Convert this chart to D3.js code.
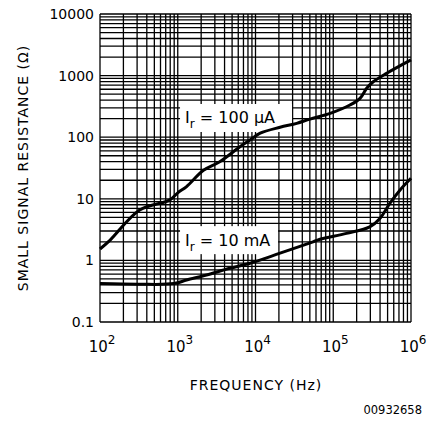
<!DOCTYPE html>
<html>
<head>
<meta charset="utf-8">
<script src="https://cdn.jsdelivr.net/npm/d3@7"></script>
<style>
  body { margin: 0; background: #fff; }
  svg { display: block; }
  text { font-family: "DejaVu Sans", sans-serif; fill: #000; }
</style>
</head>
<body>
<svg id="chart" width="431" height="423"></svg>
<script>
// Small signal resistance vs frequency, two reverse currents
const freqHigh = [100, 135, 324, 794, 1000, 1300, 2140, 3470, 6310, 8500, 11500, 20700, 33900, 50100, 91200, 164000, 221000, 269000, 327000, 486000, 1000000];
const resHigh  = [1.53, 2.14, 6.6, 9.6, 12.5, 15.8, 29, 40, 70, 90, 116, 145, 168, 197, 244, 333, 427, 622, 794, 1090, 1800];

const freqLow = [100, 316, 891, 1300, 2340, 4680, 8510, 20700, 55000, 67600, 148000, 295000, 398000, 537000, 724000, 1000000];
const resLow  = [0.42, 0.41, 0.42, 0.48, 0.58, 0.745, 0.9, 1.31, 2.0, 2.2, 2.75, 3.5, 4.8, 8.5, 13.9, 21.5];

const xTickExps = [2, 3, 4, 5, 6];
const yTickValues = [0.1, 1, 10, 100, 1000, 10000];
const yTickLabels = ["0.1", "1", "10", "100", "1000", "10000"];

// curve labels: anchor (left edge, top) in data units
const curveLabels = [
  { main: "I", sub: "r", rest: " = 100 μA", f: 1070, r: 346 },
  { main: "I", sub: "r", rest: " = 10 mA", f: 1070, r: 3.6 }
];

const svg = d3.select("#chart");
const x = d3.scaleLog().domain([1e2, 1e6]).range([100, 411]);
const y = d3.scaleLog().domain([0.1, 1e4]).range([322, 14]);

// log grid lines (1..9 per decade)
const xGrid = [];
for (let d = 2; d < 6; d++) for (let k = 1; k <= 9; k++) xGrid.push(k * Math.pow(10, d));
xGrid.push(1e6);
const yGrid = [];
for (let d = -1; d < 4; d++) for (let k = 1; k <= 9; k++) yGrid.push(k * Math.pow(10, d));
yGrid.push(1e4);

const grid = svg.append("g").attr("stroke", "#000").attr("stroke-width", 1.3);
grid.selectAll("line.v").data(xGrid).join("line").attr("class", "v")
  .attr("x1", d => x(d)).attr("x2", d => x(d))
  .attr("y1", y.range()[0]).attr("y2", y.range()[1]);
grid.selectAll("line.h").data(yGrid).join("line").attr("class", "h")
  .attr("y1", d => y(d)).attr("y2", d => y(d))
  .attr("x1", x.range()[0]).attr("x2", x.range()[1]);

// labels with white backgrounds
const boxW = [112, 98], boxH = 28;
curveLabels.forEach((c, i) => {
  const bx = x(c.f), by = y(c.r);
  svg.append("rect").attr("x", bx).attr("y", by).attr("width", boxW[i]).attr("height", boxH).attr("fill", "#fff");
  const t = svg.append("text").attr("x", bx + 5).attr("y", by + 19.5).attr("font-size", 16);
  t.append("tspan").text(c.main);
  t.append("tspan").attr("dy", 5).attr("font-size", 12).text(c.sub);
  t.append("tspan").attr("dy", -5).attr("xml:space", "preserve").style("white-space", "pre").text(c.rest);
});

// curves
const line = d3.line().x(d => x(d[0])).y(d => y(d[1])).curve(d3.curveCatmullRom.alpha(0.5));
svg.append("path").datum(d3.zip(freqHigh, resHigh)).attr("d", line)
  .attr("fill", "none").attr("stroke", "#000").attr("stroke-width", 3);
svg.append("path").datum(d3.zip(freqLow, resLow)).attr("d", line)
  .attr("fill", "none").attr("stroke", "#000").attr("stroke-width", 3);

// y tick labels
svg.append("g").selectAll("text").data(yTickValues).join("text")
  .attr("x", 94).attr("y", d => y(d)).attr("dy", "0.36em")
  .attr("text-anchor", "end").attr("font-size", 14)
  .text((d, i) => yTickLabels[i]);

// x tick labels 10^n
const xt = svg.append("g").selectAll("text").data(xTickExps).join("text")
  .attr("x", d => x(Math.pow(10, d)) + 2).attr("y", 352)
  .attr("text-anchor", "middle").attr("font-size", 15);
xt.append("tspan").text("10");
xt.append("tspan").attr("dy", -8).attr("font-size", 12).text(d => d);

// axis titles
svg.append("text").attr("x", 256).attr("y", 390).attr("text-anchor", "middle")
  .attr("font-size", 14).attr("letter-spacing", 1).text("FREQUENCY (Hz)");
svg.append("text").attr("transform", "translate(28,168) rotate(-90)").attr("text-anchor", "middle")
  .attr("font-size", 14).attr("letter-spacing", 1).text("SMALL SIGNAL RESISTANCE (Ω)");

svg.append("text").attr("x", 422).attr("y", 414).attr("text-anchor", "end")
  .attr("font-family", "Liberation Sans, Arial, sans-serif").attr("font-size", 11.5).text("00932658");
</script>
</body>
</html>
